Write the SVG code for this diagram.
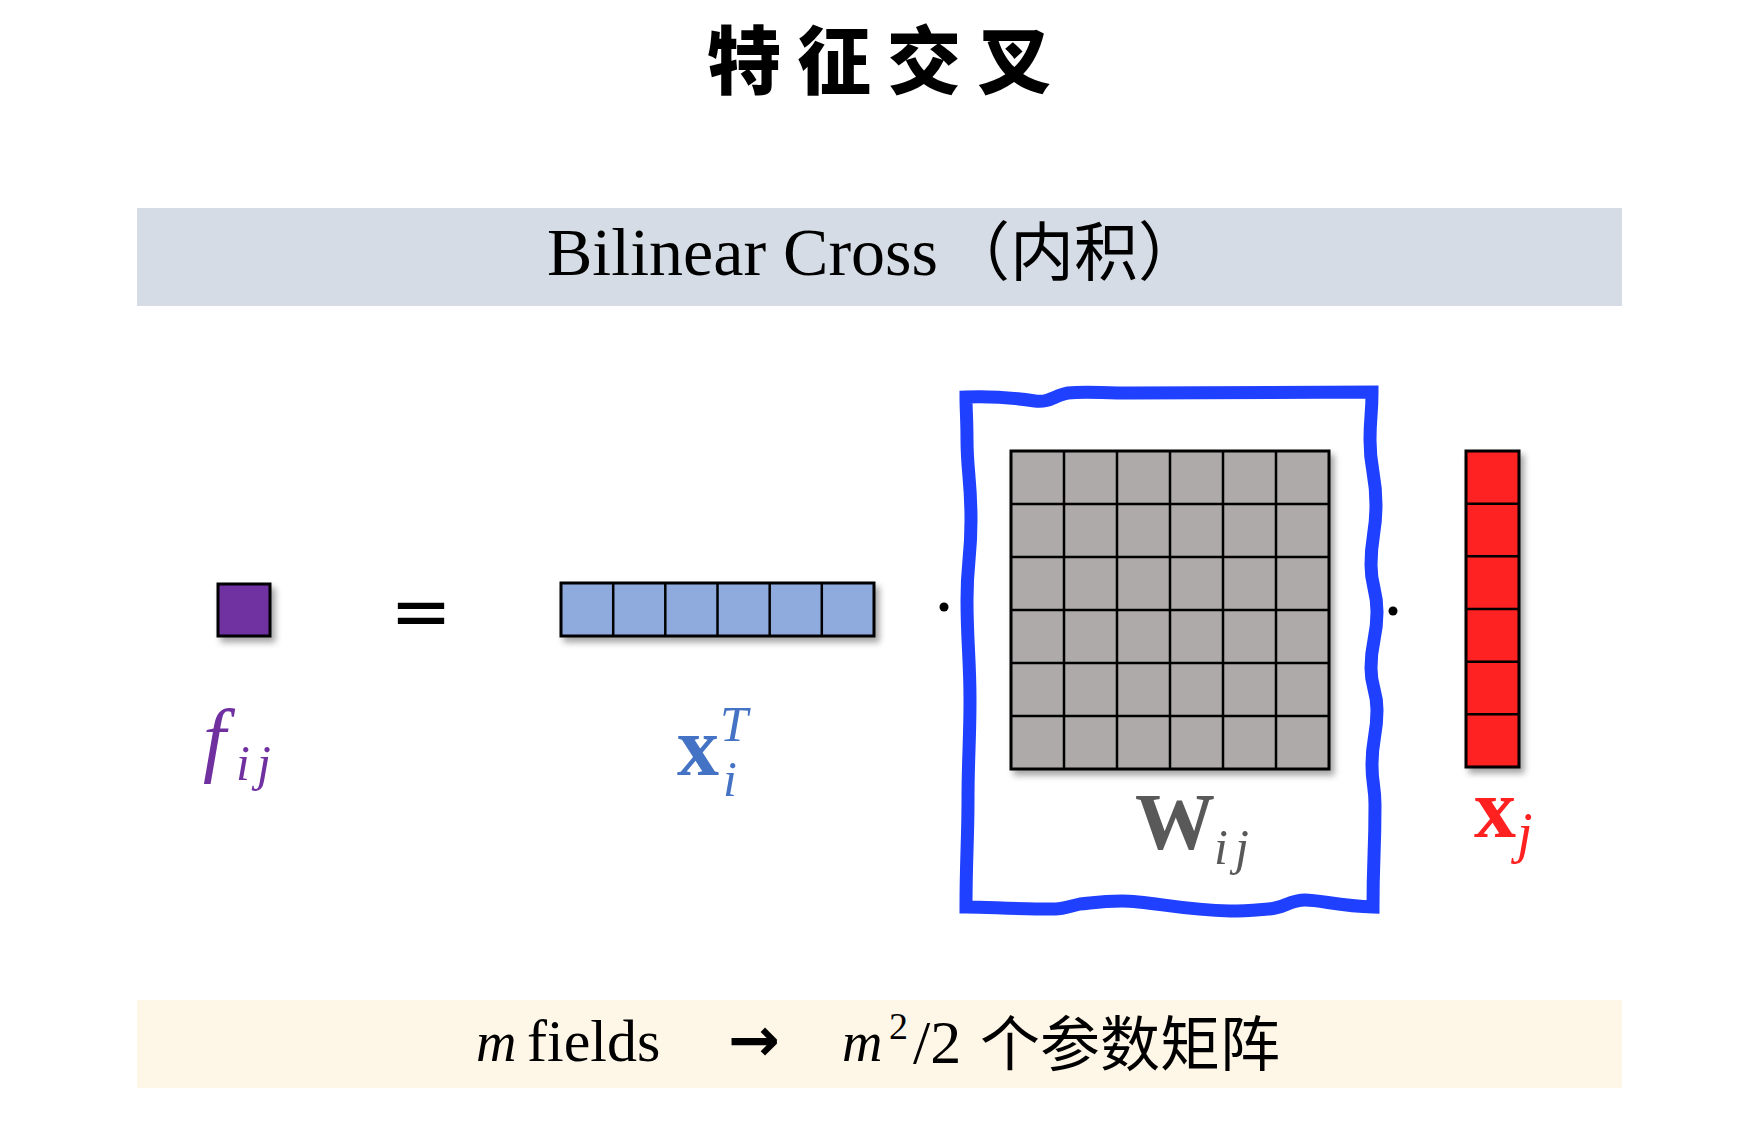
<svg xmlns="http://www.w3.org/2000/svg" width="1760" height="1140" viewBox="0 0 1760 1140">
<style>
.serif{font-family:"Liberation Serif","Noto Sans CJK SC",serif}
.cjk{font-family:"Noto Sans CJK SC",sans-serif}
.grid{stroke:#000;stroke-width:2.5;fill:none}
.cellbox{stroke:#000;stroke-width:3}
</style>
<defs>
<filter id="sh" x="-20%" y="-20%" width="150%" height="160%">
<feDropShadow dx="4" dy="5" stdDeviation="3" flood-color="#000" flood-opacity="0.35"/>
</filter>
</defs>
<rect width="1760" height="1140" fill="#fff"/>
<g id="title">
<text x="887" y="88" class="cjk" font-size="74" font-weight="900" letter-spacing="16" text-anchor="middle">特征交叉</text>
</g>
<g id="header">
<rect x="137" y="208" width="1485" height="98" fill="#D6DCE5"/>
<text y="275" class="serif" font-size="68"><tspan x="547">Bilinear Cross</tspan><tspan x="946" class="cjk" font-size="64">（内积）</tspan></text>
</g>
<g id="f_ij">
<rect x="218" y="584" width="52" height="52" fill="#7030A0" class="cellbox" filter="url(#sh)"/>
<text class="serif" fill="#7030A0" font-style="italic"><tspan x="203" y="766" font-size="82">f</tspan><tspan x="236" y="780" font-size="50" letter-spacing="7">ij</tspan></text>
</g>
<g id="equals">
<text x="421" y="637" font-family="DejaVu Sans" font-size="74" text-anchor="middle">=</text>
</g>
<g id="x_i">
<g filter="url(#sh)">
<rect x="561" y="583" width="313" height="53" fill="#8FAADC" class="cellbox"/>
<path class="grid" d="M613.2,583V636M665.3,583V636M717.5,583V636M769.7,583V636M821.8,583V636"/>
</g>
<text class="serif" fill="#4472C4" font-size="84" font-weight="bold" x="677" y="775">x</text>
<text class="serif" fill="#4472C4" font-size="50" font-style="italic" x="720" y="741">T</text>
<text class="serif" fill="#4472C4" font-size="50" font-style="italic" x="723" y="796">i</text>
</g>
<g id="W_ij">
<path d="M966,397 C990,396 1015,398 1035,401 C1050,403 1055,395 1068,393 C1085,391 1100,393 1130,393 L1372,392 C1372,416 1370,416 1370,440 C1370,472 1376,472 1376,505 C1376,535 1371,535 1371,565 C1371,588 1377,588 1377,612 C1377,640 1371,640 1371,668 C1371,689 1377,689 1377,710 C1377,737 1372,737 1372,765 C1372,785 1375,785 1375,805 C1375,856 1373,856 1373,907 C1340,906 1320,900 1305,900 C1290,900 1282,909 1268,909 C1255,910 1245,911 1230,911 C1180,910 1150,901 1122,901 C1100,901 1092,903 1080,904 C1070,906 1065,909 1055,909 C1010,909 990,907 966,907 C966,860 968,840 968,800 C968,760 970,740 970,700 C970,660 967,640 967,600 C967,560 971,560 971,520 C971,480 967,470 967,440 C967,420 966,410 966,397 Z" fill="none" stroke="#2040FF" stroke-width="13" stroke-linejoin="miter"/>
<g filter="url(#sh)">
<rect x="1011" y="451" width="318" height="318" fill="#AEAAAA" class="cellbox"/>
<path class="grid" d="M1064,451V769M1117,451V769M1170,451V769M1223,451V769M1276,451V769M1011,504H1329M1011,557H1329M1011,610H1329M1011,663H1329M1011,716H1329"/>
</g>
<text class="serif" fill="#595959" x="1135" y="849" font-size="80" font-weight="bold">W</text>
<text class="serif" fill="#595959" x="1214" y="864" font-size="50" font-style="italic" letter-spacing="7">ij</text>
</g>
<g id="x_j">
<g filter="url(#sh)">
<rect x="1466" y="451" width="53" height="316" fill="#FF2020" class="cellbox"/>
<path class="grid" d="M1466,503.7H1519M1466,556.3H1519M1466,609H1519M1466,661.7H1519M1466,714.3H1519"/>
</g>
<text class="serif" fill="#FF2020"><tspan x="1474" y="837" font-size="84" font-weight="bold">x</tspan><tspan x="1517" y="852" font-size="56" font-style="italic">j</tspan></text>
</g>
<g id="connectors">
<circle cx="944" cy="607" r="4.5" fill="#000"/>
<circle cx="1393" cy="611" r="4.5" fill="#000"/>
</g>
<g id="footer">
<rect x="137" y="1000" width="1485" height="88" fill="#FEF6E6"/>
<text y="1061" class="serif"><tspan x="476" font-size="56" font-style="italic">m</tspan><tspan x="527" font-size="60">fields</tspan></text>
<text x="754" y="1061" font-family="DejaVu Sans" font-weight="bold" font-size="62" text-anchor="middle">→</text>
<text y="1061" class="serif"><tspan x="842" font-size="56" font-style="italic">m</tspan><tspan x="889" y="1039" font-size="38">2</tspan><tspan x="913" y="1063" font-size="62">/2</tspan></text>
<text x="980" y="1066" class="cjk" font-size="60">个参数矩阵</text>
</g>
</svg>
